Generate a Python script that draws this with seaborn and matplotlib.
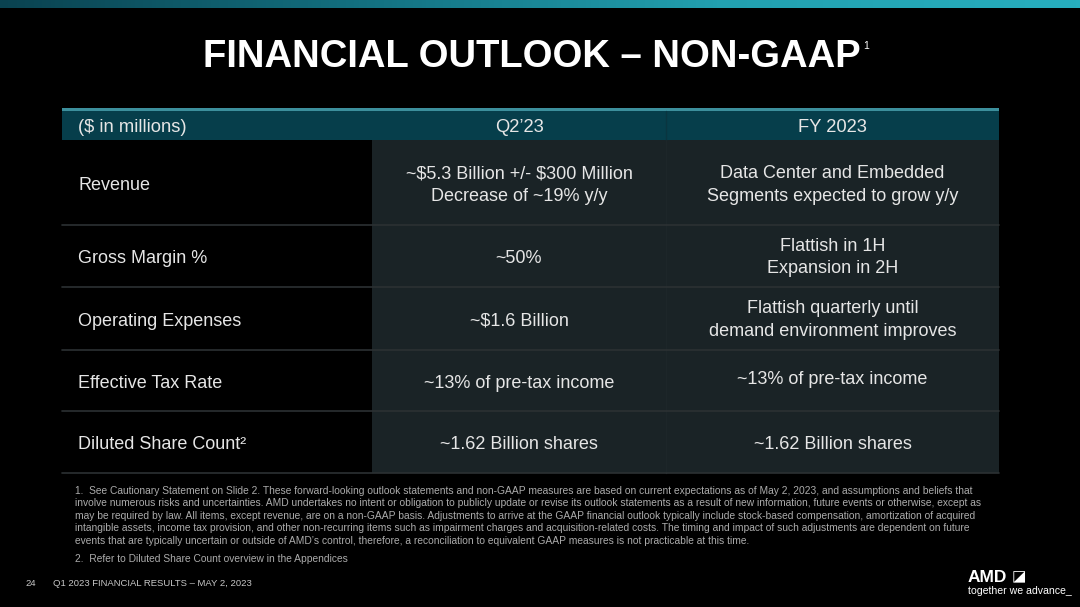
import numpy as np
import matplotlib
matplotlib.use("Agg")
import matplotlib.pyplot as plt
from matplotlib.colors import LinearSegmentedColormap
import seaborn as sns

# ---------------- data ----------------
title = "FINANCIAL OUTLOOK – NON-GAAP"
col_headers = ["($ in millions)", "Q2’23", "FY 2023"]
row_labels = ["Revenue", "Gross Margin %", "Operating Expenses",
              "Effective Tax Rate", "Diluted Share Count²"]
q2_values = ["~$5.3 Billion +/- $300 Million\nDecrease of ~19% y/y",
             "~50%",
             "~$1.6 Billion",
             "~13% of pre-tax income",
             "~1.62 Billion shares"]
fy_values = ["Data Center and Embedded\nSegments expected to grow y/y",
             "Flattish in 1H\nExpansion in 2H",
             "Flattish quarterly until\ndemand environment improves",
             "~13% of pre-tax income",
             "~1.62 Billion shares"]
footnote_1 = ("1.  See Cautionary Statement on Slide 2. These forward-looking outlook statements and non-GAAP measures are based on current expectations as of May 2, 2023, and assumptions and beliefs that\n"
              "involve numerous risks and uncertainties. AMD undertakes no intent or obligation to publicly update or revise its outlook statements as a result of new information, future events or otherwise, except as\n"
              "may be required by law. All items, except revenue, are on a non-GAAP basis. Adjustments to arrive at the GAAP financial outlook typically include stock-based compensation, amortization of acquired\n"
              "intangible assets, income tax provision, and other non-recurring items such as impairment charges and acquisition-related costs. The timing and impact of such adjustments are dependent on future\n"
              "events that are typically uncertain or outside of AMD’s control, therefore, a reconciliation to equivalent GAAP measures is not practicable at this time.")
footnote_2 = "2.  Refer to Diluted Share Count overview in the Appendices"
page_number = "24"
footer_text = "Q1 2023 FINANCIAL RESULTS – MAY 2, 2023"

# ---------------- layout (pixels) ----------------
W, H = 1080, 607
x_left, x_col1, x_col2, x_right = 62, 372, 666, 999
header_top, header_bot = 108, 140
row_edges = [140, 225, 287, 350, 411, 473]
fy_offsets = [0, -1, -1, -3, 0]
text_shift = 2.5

sns.set_theme(style="dark")
plt.rcParams["font.family"] = ["Liberation Sans", "DejaVu Sans"]
plt.rcParams["text.parse_math"] = False

fig = plt.figure(figsize=(W / 100, H / 100), dpi=100, facecolor="black")
ax = fig.add_axes([0, 0, 1, 1])
ax.set_xlim(0, W)
ax.set_ylim(H, 0)
ax.set_facecolor("black")
ax.axis("off")

# top gradient bar
cmap = LinearSegmentedColormap.from_list("bar", ["#0a4250", "#137080", "#22a0b0", "#27aebe"])
grad = np.linspace(0, 1, 256)[None, :]
ax.imshow(grad, cmap=cmap, extent=[0, W, 8, 0], aspect="auto", zorder=1)

# title
ax.text(532, 57, title, color="white", fontsize=27.5, fontweight="bold",
        ha="center", va="center", zorder=5, parse_math=False)
ax.text(863, 46, "1", color="white", fontsize=7.5, ha="left", va="center", zorder=5)

# header row
ax.barh(y=(header_top + header_bot) / 2, width=x_right - x_left, left=x_left,
        height=header_bot - header_top, color="#063e4b", linewidth=0, zorder=2)
ax.barh(y=header_top + 1.5, width=x_right - x_left, left=x_left, height=3,
        color="#3c8f9c", linewidth=0, zorder=3)
ax.plot([x_col2, x_col2], [header_top + 3, header_bot], color="#0a3540", lw=1, zorder=3)

# body background for value columns
tops = np.array(row_edges[:-1])
bots = np.array(row_edges[1:])
centers = (tops + bots) / 2
heights = bots - tops
ax.barh(y=centers, width=x_right - x_col1, left=x_col1, height=heights,
        color="#1a2326", linewidth=0, zorder=2)
ax.plot([x_col2, x_col2], [header_bot, row_edges[-1]], color="#1d2629", lw=1, zorder=3)
for yb in row_edges[1:]:
    ax.plot([x_left, x_right], [yb, yb], color="#2c3133", lw=1.2, zorder=3)

# header text
txt_color = "#e6e6e6"
hy = (header_top + header_bot) / 2 + 3.5
ax.text(78, hy, col_headers[0], color=txt_color, fontsize=13.2, ha="left", va="center",
        zorder=5, parse_math=False)
ax.text((x_col1 + x_col2) / 2, hy, col_headers[1], color=txt_color, fontsize=13.2,
        ha="center", va="center", zorder=5)
ax.text((x_col2 + x_right) / 2, hy, col_headers[2], color=txt_color, fontsize=13.2,
        ha="center", va="center", zorder=5)

# body text
for i, (lab, q2, fy) in enumerate(zip(row_labels, q2_values, fy_values)):
    cy = centers[i] + text_shift
    ax.text(78, cy, lab, color=txt_color, fontsize=13, ha="left", va="center", zorder=5)
    ax.text((x_col1 + x_col2) / 2, cy, q2, color=txt_color, fontsize=13,
            ha="center", va="center", linespacing=1.45, zorder=5, parse_math=False)
    ax.text((x_col2 + x_right) / 2, cy + fy_offsets[i], fy, color=txt_color, fontsize=13,
            ha="center", va="center", linespacing=1.45, zorder=5, parse_math=False)

# footnotes
fn_color = "#ababab"
ax.text(75, 486, footnote_1, color=fn_color, fontsize=7.35, ha="left", va="top",
        linespacing=1.3, zorder=5, parse_math=False)
ax.text(75, 559, footnote_2, color=fn_color, fontsize=7.35, ha="left", va="center", zorder=5)

# footer
ax.text(25, 583, page_number, color="#c8c8c8", fontsize=6.8, ha="left", va="center", zorder=5)
ax.text(53, 583, footer_text, color="#c8c8c8", fontsize=6.8, ha="left", va="center", zorder=5)

# logo
ax.text(968, 577, "AMD", color="white", fontsize=12.5, fontweight="bold", ha="left",
        va="center", zorder=5)
ax.text(1012, 577, "◪", color="white", fontsize=11, ha="left", va="center",
        family=["DejaVu Sans"], zorder=5)
ax.text(968, 591, "together we advance_", color="white", fontsize=7.6, ha="left",
        va="center", zorder=5)

fig.savefig("out.png", dpi=100, facecolor="black")
